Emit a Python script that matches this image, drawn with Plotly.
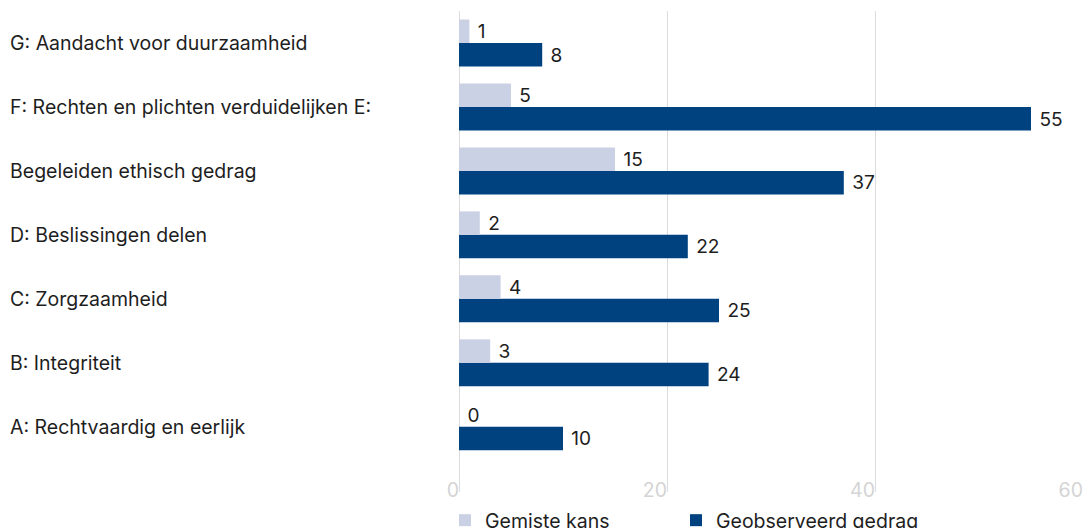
import plotly.graph_objects as go

# Categories listed bottom-to-top (A at the bottom of the chart)
categories = [
    "A: Rechtvaardig en eerlijk",
    "B: Integriteit",
    "C: Zorgzaamheid",
    "D: Beslissingen delen",
    "Begeleiden ethisch gedrag",
    "F: Rechten en plichten verduidelijken E:",
    "G: Aandacht voor duurzaamheid",
]
gemiste_kans = [0, 3, 4, 2, 15, 5, 1]
geobserveerd_gedrag = [10, 24, 25, 22, 37, 55, 8]
x_ticks = [0, 20, 40, 60]

light = "#cbd1e4"
dark = "#00427f"
text_col = "#1e1e1e"
font_family = "Inter, Roboto, sans-serif"
fs = 19.5

ypos = list(range(len(categories)))

fig = go.Figure()
# Plotted first so it sits in the lower slot of each group
fig.add_trace(go.Bar(
    name="Geobserveerd gedrag",
    y=ypos, x=geobserveerd_gedrag, orientation="h",
    marker=dict(color=dark, line=dict(width=0)),
    texttemplate="\u00a0%{x}", textposition="outside",
    textfont=dict(size=fs, color=text_col, family=font_family),
    cliponaxis=False, legend="legend2",
))
fig.add_trace(go.Bar(
    name="Gemiste kans",
    y=ypos, x=gemiste_kans, orientation="h",
    marker=dict(color=light, line=dict(width=0)),
    texttemplate="\u00a0%{x}", textposition="outside",
    textfont=dict(size=fs, color=text_col, family=font_family),
    cliponaxis=False, legend="legend",
))

plot_left = 459
plot_width = 1083 - plot_left

# Left-aligned category labels
for yv, cat in zip(ypos, categories):
    fig.add_annotation(
        x=-(plot_left - 8) / plot_width, xref="paper", xanchor="left",
        y=yv, yref="y", yanchor="middle",
        text=cat, showarrow=False,
        font=dict(size=fs, color=text_col, family=font_family),
    )

legend_common = dict(
    orientation="h", xanchor="left",
    y=1 - 501 / 528, yref="container", yanchor="top",
    font=dict(size=fs, color=text_col, family=font_family),
    itemclick=False, itemdoubleclick=False,
)

fig.update_layout(
    width=1083, height=528,
    margin=dict(l=plot_left, r=0, t=11, b=36, autoexpand=False),
    plot_bgcolor="white", paper_bgcolor="white",
    barmode="group", bargap=0.266, bargroupgap=0,
    font=dict(family=font_family, size=fs, color=text_col),
    showlegend=True,
    legend=dict(x=-14 / plot_width, **legend_common),
    legend2=dict(x=(690 - plot_left - 14) / plot_width, **legend_common),
    xaxis=dict(
        range=[0, 60], tickvals=x_ticks, ticktext=[str(v) for v in x_ticks],
        showgrid=True, gridcolor="#dcdcdc", gridwidth=1,
        zeroline=True, zerolinecolor="#dcdcdc", zerolinewidth=1,
        showline=False, ticks="",
        ticklabelposition="outside left", ticklabelstandoff=-16,
        tickfont=dict(size=fs, color="#d4d4d4", family=font_family),
    ),
    yaxis=dict(
        range=[-1.02, 6.5], tickvals=ypos, showticklabels=False,
        showgrid=False, zeroline=False, showline=False, ticks="",
    ),
)

fig.write_html("out.html")
